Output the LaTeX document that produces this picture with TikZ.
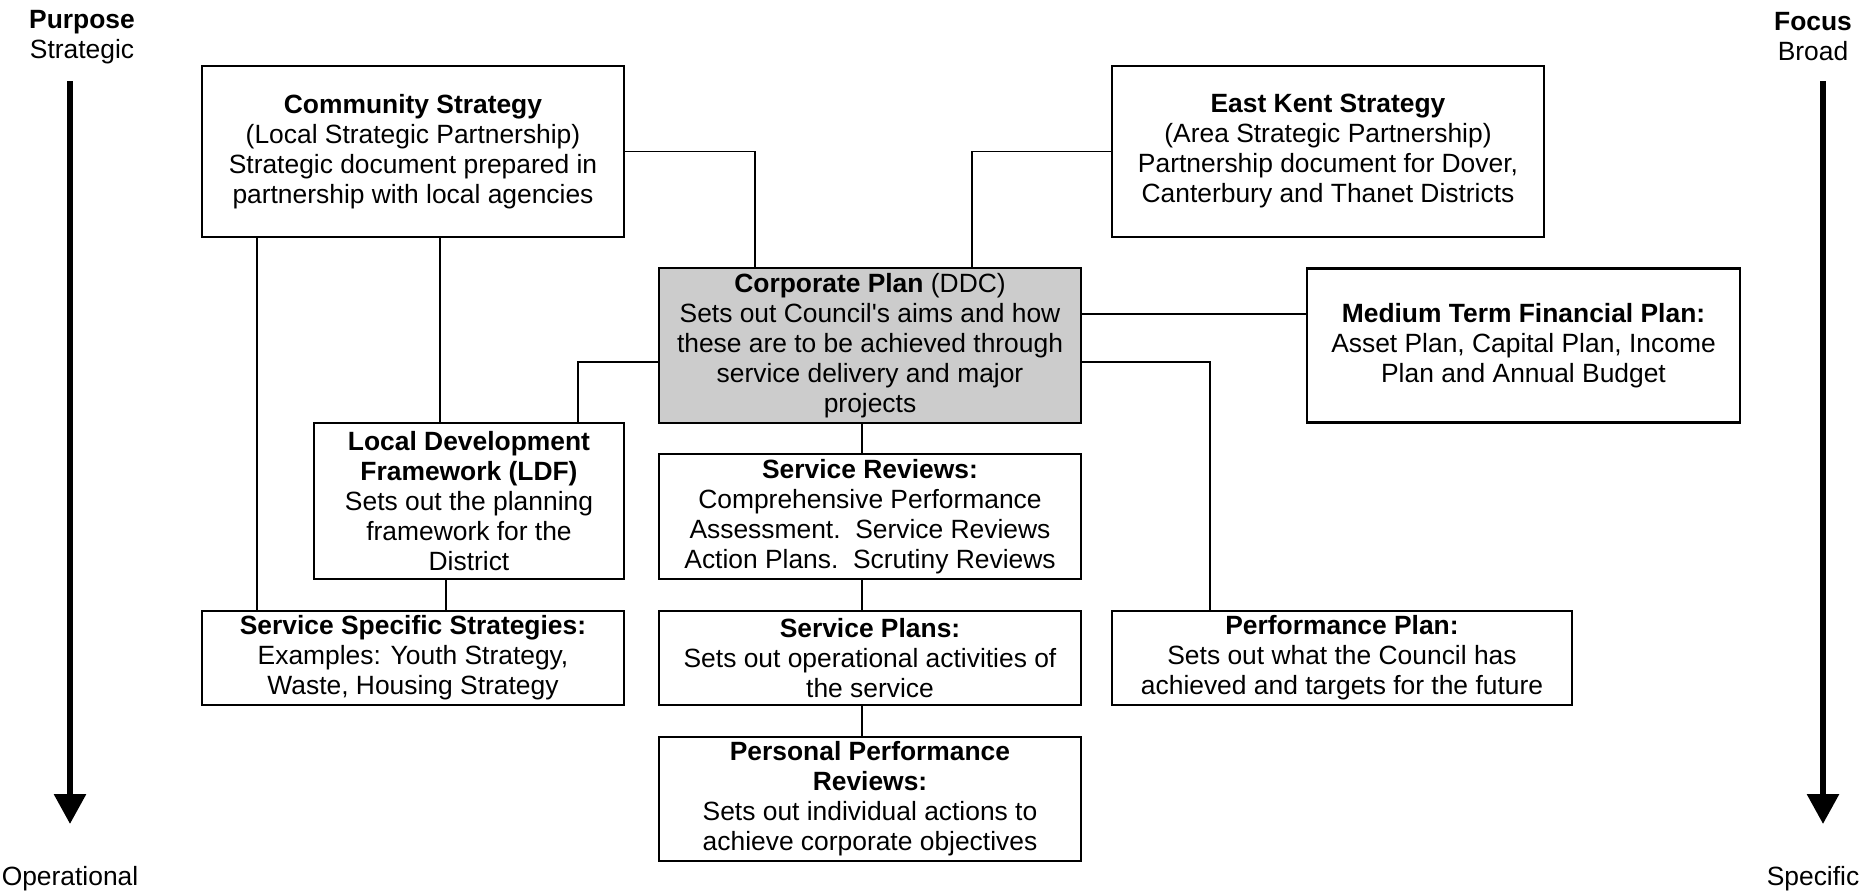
\documentclass[tikz,border=0pt]{standalone}
\usepackage{fontspec}
\setmainfont{Liberation Sans}
\usepackage{tikz}
\usetikzlibrary{shapes,arrows.meta,calc}
\tikzstyle{doc} = [rectangle, draw, line width=1.2pt, inner sep=1pt,
    align=center, minimum width=211pt]
\tikzstyle{link} = [line width=0.9pt]
\tikzstyle{axis} = [line width=3pt, -{Triangle[width=15.5pt,length=15pt]}]

\begin{document}
\begin{tikzpicture}[x=0.5pt,y=-0.5pt,font=\fontsize{13.2}{15}\selectfont]
  \useasboundingbox (0,0) rectangle (1870,891);

  % side scales
  \node[align=center] (purpose) at (82,37) {\textbf{Purpose}\\Strategic};
  \node (operational) at (70,879) {Operational};
  \node[align=center] (focus) at (1813,37) {\textbf{Focus}\\Broad};
  \node (specific) at (1813,879) {Specific};
  \coordinate (ltop) at (70,81);
  \coordinate (lbot) at (70,824);
  \coordinate (rtop) at (1823,81);
  \coordinate (rbot) at (1823,824);
  \draw[axis] (ltop) -- (lbot);
  \draw[axis] (rtop) -- (rbot);

  % documents
  \node[doc, minimum height=85.5pt] (cs) at (413,151.5)
    {\textbf{Community Strategy}\\(Local Strategic Partnership)\\Strategic document prepared in\\partnership with local agencies};
  \node[doc, minimum width=216pt, minimum height=85.5pt] (ek) [node distance=457.5pt, right of=cs]
    {\textbf{East Kent Strategy}\\(Area Strategic Partnership)\\Partnership document for Dover,\\Canterbury and Thanet Districts};
  \node[doc, fill=black!20, minimum height=77.5pt] (corp) at (870,345.5)
    {\textbf{Corporate Plan} (DDC)\\Sets out Council\textquotesingle s aims and how\\these are to be achieved through\\service delivery and major\\projects};
  \node[doc, minimum width=216.5pt, minimum height=77pt] (mtfp) [node distance=326.75pt, right of=corp]
    {\textbf{Medium Term Financial Plan:}\\Asset Plan, Capital Plan, Income\\Plan and Annual Budget};
  \node[doc, minimum height=62.5pt] (sr) [node distance=85.5pt, below of=corp]
    {\textbf{Service Reviews:}\\Comprehensive Performance\\Assessment.\ \ Service Reviews\\Action Plans.\ \ Scrutiny Reviews};
  \node[doc, minimum width=155pt, minimum height=78pt] (ldf) [node distance=200.5pt, left of=sr, yshift=7.75pt]
    {\textbf{Local Development}\\\textbf{Framework (LDF)}\\Sets out the planning\\framework for the\\District};
  \node[doc, minimum height=47pt] (sp) [node distance=70.75pt, below of=sr]
    {\textbf{Service Plans:}\\Sets out operational activities of\\the service};
  \node[doc, minimum height=47pt] (sss) [node distance=228.5pt, left of=sp]
    {\textbf{Service Specific Strategies:}\\Examples: Youth Strategy,\\Waste, Housing Strategy};
  \node[doc, minimum width=230pt, minimum height=47pt] (pp) [node distance=236pt, right of=sp]
    {\textbf{Performance Plan:}\\Sets out what the Council has\\achieved and targets for the future};
  \node[doc, minimum height=62pt] (ppr) [node distance=70.5pt, below of=sp]
    {\textbf{Personal Performance}\\\textbf{Reviews:}\\Sets out individual actions to\\achieve corporate objectives};

  % links
  \draw[link] (cs.east) -| ([xshift=-57.5pt]corp.north);
  \draw[link] (ek.west) -| ([xshift=51pt]corp.north);
  \draw[link] ([xshift=-78pt]cs.south) -- ([xshift=-78pt]sss.north);
  \draw[link] ([xshift=13.5pt]cs.south) -- ([xshift=13.5pt]cs.south |- ldf.north);
  \draw[link] ([yshift=-8.25pt]corp.west) -| ([xshift=54.5pt]ldf.north);
  \draw[link] ([yshift=15.75pt]corp.east) -- ([yshift=15.75pt]corp.east -| mtfp.west);
  \draw[link] ([yshift=-8.25pt]corp.east) -| ([xshift=-66pt]pp.north);
  \draw[link] ([xshift=-4pt]corp.south) -- ([xshift=-4pt]sr.north);
  \draw[link] ([xshift=-4pt]sr.south) -- ([xshift=-4pt]sp.north);
  \draw[link] ([xshift=-4pt]sp.south) -- ([xshift=-4pt]ppr.north);
  \draw[link] ([xshift=-11.5pt]ldf.south) -- ([xshift=-11.5pt]ldf.south |- sss.north);
\end{tikzpicture}
\end{document}
